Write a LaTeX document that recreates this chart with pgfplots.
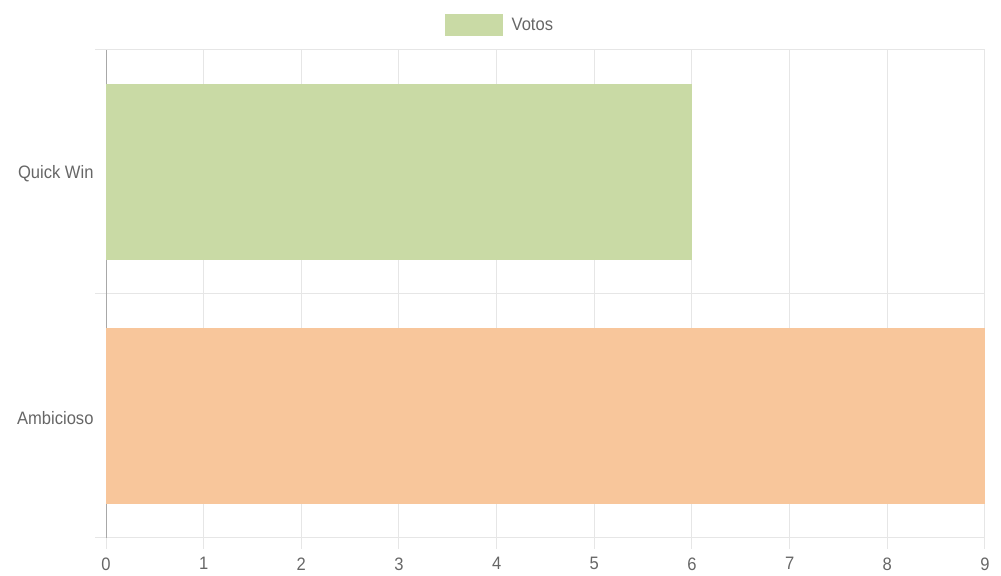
\documentclass[border=0pt]{standalone}
\usepackage{fontspec}
\setmainfont{Liberation Sans}[FakeStretch=0.92]
\usepackage{pgfplots}
\pgfplotsset{compat=1.18}
\definecolor{votgreen}{HTML}{C9DAA5}
\definecolor{votorange}{HTML}{F8C69B}
\definecolor{gridc}{HTML}{E6E6E6}
\definecolor{axc}{HTML}{A8A8A8}
\definecolor{txt}{HTML}{666666}
\begin{document}
\begin{tikzpicture}
\useasboundingbox (0,0) rectangle (1001bp,576bp);
\begin{axis}[
  at={(106bp,38bp)}, anchor=south west,
  scale only axis, width=879bp, height=488bp,
  xmin=0, xmax=9, ymin=-0.5, ymax=1.5,
  xtick={0,...,9},
  /pgf/number format/assume math mode=true,
  ytick={-0.5,0.5,1.5}, yticklabels={},
  extra y ticks={0,1}, extra y tick labels={Ambicioso,Quick Win},
  extra y tick style={grid=none, major tick length=0pt, tick style={draw=none},
    yticklabel style={xshift=-9bp, yshift=-2bp}},
  grid=major, grid style={gridc, line width=1bp},
  axis x line*=bottom, axis y line*=left,
  x axis line style={gridc, line width=1bp, -},
  y axis line style={axc, line width=1bp, -},
  tick align=outside, major tick length=11bp,
  tick style={gridc, line width=1bp},
  tick label style={font=\fontsize{18bp}{20bp}\selectfont, text=txt},
  xticklabel style={yshift=-5bp},
  legend style={at={(rel axis cs:0.3857,1)}, anchor=west, yshift=25bp,
    draw=none, fill=none, inner sep=0pt, font=\fontsize{18bp}{20bp}\selectfont, text=txt,
    /tikz/every odd column/.append style={column sep=7bp}},
]
\addlegendimage{legend image code/.code={\fill[votgreen] (0bp,-10.5bp) rectangle (57bp,10.5bp);}}
\addlegendentry{Votos}
\addplot[xbar, bar width=0.72, bar shift=0pt, fill=votgreen, draw=none, forget plot] coordinates {(6,1)};
\addplot[xbar, bar width=0.72, bar shift=0pt, fill=votorange, draw=none, forget plot] coordinates {(9,0)};
\end{axis}
\end{tikzpicture}
\end{document}
